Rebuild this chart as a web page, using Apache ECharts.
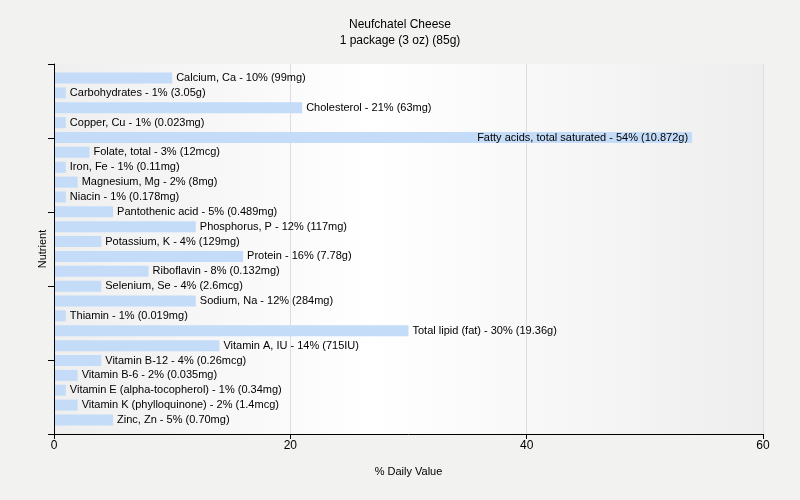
<!DOCTYPE html>
<html><head><meta charset="utf-8">
<script src="https://cdn.jsdelivr.net/npm/echarts@6/dist/echarts.min.js"></script>
<style>html,body{margin:0;padding:0;background:#f2f2f1;}#c{width:800px;height:500px;}</style>
</head><body><div id="c"></div>
<script>
var categories = ["Calcium, Ca","Carbohydrates","Cholesterol","Copper, Cu","Fatty acids, total saturated","Folate, total","Iron, Fe","Magnesium, Mg","Niacin","Pantothenic acid","Phosphorus, P","Potassium, K","Protein","Riboflavin","Selenium, Se","Sodium, Na","Thiamin","Total lipid (fat)","Vitamin A, IU","Vitamin B-12","Vitamin B-6","Vitamin E (alpha-tocopherol)","Vitamin K (phylloquinone)","Zinc, Zn"];
var values = [10,1,21,1,54,3,1,2,1,5,12,4,16,8,4,12,1,30,14,4,2,1,2,5];
var amounts = ["99mg","3.05g","63mg","0.023mg","10.872g","12mcg","0.11mg","8mg","0.178mg","0.489mg","117mg","129mg","7.78g","0.132mg","2.6mcg","284mg","0.019mg","19.36g","715IU","0.26mcg","0.035mg","0.34mg","1.4mcg","0.70mg"];
var xTicks = [0,20,40,60];
var FONT = "Liberation Sans";
var chart = echarts.init(document.getElementById('c'));
var data = values.map(function(v,i){
  var inside = v > 45;
  return {value:v, label:{position: inside ? 'insideRight' : 'right', distance: 4,
    formatter: categories[i] + ' - ' + v + '% (' + amounts[i] + ')'}};
});
chart.setOption({
  backgroundColor:'#f2f2f1',
  animation:false,
  title:{text:'Neufchatel Cheese', subtext:'1 package (3 oz) (85g)', left:'center', top:14,
    itemGap:4,
    textStyle:{fontFamily:FONT,fontSize:12,fontWeight:'normal',color:'#000'},
    subtextStyle:{fontFamily:FONT,fontSize:12,color:'#000'}},
  grid:[{left:54,right:37,top:64,bottom:66,show:true,borderWidth:0,
    backgroundColor:new echarts.graphic.LinearGradient(0,0,1,0,[{offset:0,color:'#efefef'},{offset:0.45,color:'#ffffff'},{offset:1,color:'#eeeeee'}])},
    {left:54,right:37,top:70.6,bottom:72.6}],
  xAxis:[{type:'value',min:0,max:60,interval:20,gridIndex:0,
    name:'% Daily Value',nameLocation:'middle',nameGap:32,
    nameTextStyle:{fontFamily:FONT,fontSize:11,color:'#000'},
    axisLine:{show:true,lineStyle:{color:'#000'}},
    axisTick:{show:true,length:5,lineStyle:{color:'#000'}},
    axisLabel:{fontFamily:FONT,fontSize:12,color:'#000',margin:6},
    splitLine:{show:true,lineStyle:{color:'#dddddd'}}},
   {type:'value',min:0,max:60,gridIndex:1,show:false,splitLine:{show:false}}],
  yAxis:[{type:'value',min:0,max:5,interval:1,gridIndex:0,position:'left',z:5,
    name:'Nutrient',nameLocation:'middle',nameGap:6,
    nameTextStyle:{fontFamily:FONT,fontSize:11,color:'#000'},
    axisLine:{show:true,lineStyle:{color:'#000'}},
    axisTick:{show:true,length:6,lineStyle:{color:'#000'}},
    axisLabel:{show:false},splitLine:{show:false}},
   {type:'category',data:categories,inverse:true,gridIndex:1,
    axisLine:{show:false},axisTick:{show:false},axisLabel:{show:false}}],
  series:[{type:'bar',data:data,xAxisIndex:1,yAxisIndex:1,barWidth:11,
    itemStyle:{color:'#c4dcf8'},
    label:{show:true,fontFamily:FONT,fontSize:11,color:'#000'}}]
});
</script></body></html>
